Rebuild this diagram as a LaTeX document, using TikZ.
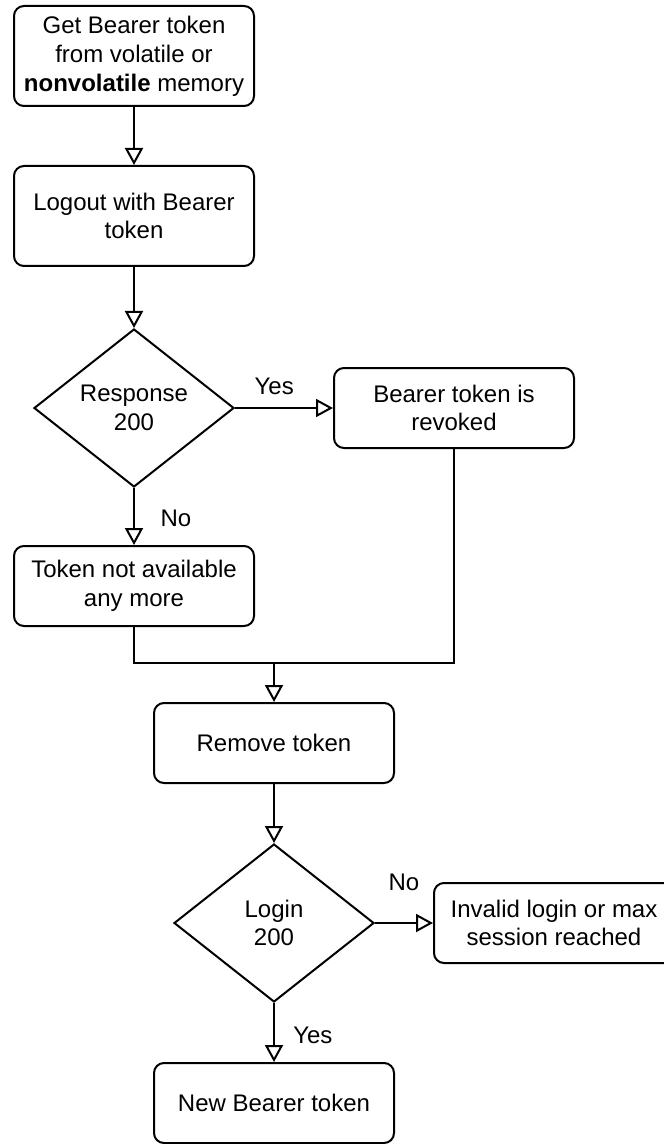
\documentclass[tikz,border=0pt]{standalone}
\usepackage{fontspec}
\setmainfont{Liberation Sans}
\usetikzlibrary{arrows.meta,shapes.geometric}

\begin{document}
\begin{tikzpicture}[x=0.5pt,y=-0.5pt,line width=1pt,
  >={Triangle[open,length=8.5pt,width=9pt]},
  font=\fontsize{12pt}{14.4pt}\selectfont,
  nd/.style={draw,rounded corners=5pt,inner sep=2pt,minimum width=120pt,minimum height=40pt,align=center},
  tall/.style={nd,minimum height=50pt},
  dec/.style={draw,diamond,inner sep=0pt,minimum width=100pt,minimum height=79pt,align=center},
  lbl/.style={font=\fontsize{12pt}{14.4pt}\selectfont}]
  \useasboundingbox (0,0) rectangle (663,1144);
  % boxes and decisions
  \node[tall] (fetch) at (134,56) {Get Bearer token\\from volatile or\\\textbf{nonvolatile} memory};
  \node[tall] (logout) at (134,216) {Logout with Bearer\\token};
  \node[dec] (resp) at (134,408) {Response\\200};
  \node[nd] (revoked) at (454,408) {Bearer token is\\revoked};
  \node[nd] (gone) at (134,586) {Token not available\\any more};
  \node[nd] (remove) at (274,743) {Remove token};
  \node[dec] (login) at (274,923) {Login\\200};
  \node[nd] (invalid) at (554,923) {Invalid login or max\\session reached};
  \node[nd] (newtok) at (274,1103) {New Bearer token};
  \coordinate (jn) at (274,663);
  % connectors
  \draw[->] (fetch) -- (logout);
  \draw[->] (logout) -- (resp);
  \draw[->] (resp) -- node[lbl,above=3pt,pos=0.4] {Yes} (revoked);
  \draw[->] (resp) -- node[lbl,right=9.5pt,pos=0.53] {No} (gone);
  \draw (gone.south) |- (jn) -| (revoked.south);
  \draw[->] (jn) -- (remove);
  \draw[->] (remove) -- (login);
  \draw[->] (login) -- node[lbl,above=12.4pt,pos=0.5] {No} (invalid);
  \draw[->] (login) -- node[lbl,right=5.8pt,pos=0.54] {Yes} (newtok);
\end{tikzpicture}
\end{document}
